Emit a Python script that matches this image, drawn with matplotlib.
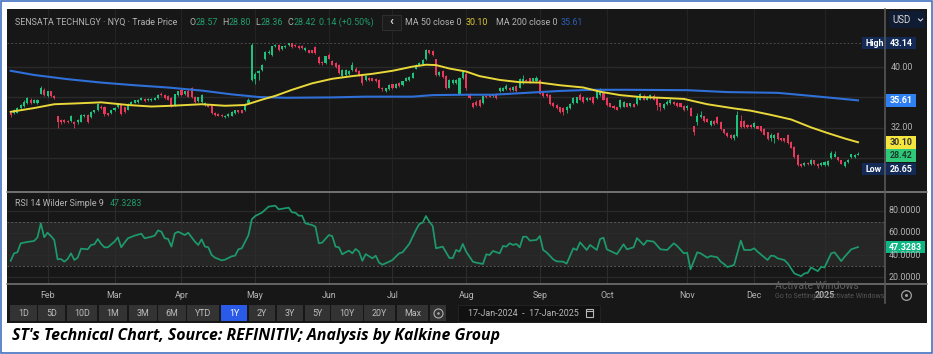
import numpy as np
import matplotlib
matplotlib.use("Agg")
import matplotlib.pyplot as plt
from matplotlib.patches import Rectangle

W, H = 933, 354

opens = [33.9,33.9,34.0,34.6,34.9,35.2,35.7,35.3,35.2,36.5,
37.0,36.2,36.8,36.2,33.5,33.0,33.0,32.9,32.9,32.8,
32.7,32.8,33.5,33.7,33.4,34.1,34.3,34.8,34.8,33.9,
33.9,34.3,34.7,35.0,34.7,34.4,35.1,35.3,35.4,35.7,
35.8,35.6,35.6,35.7,35.9,36.5,36.3,36.2,35.9,35.0,
36.3,37.0,36.4,36.9,37.2,36.1,35.5,35.4,35.0,35.0,
34.9,34.0,33.8,33.7,33.4,33.5,33.6,33.9,34.3,34.3,
34.3,35.2,38.3,38.4,39.2,39.6,41.0,41.8,41.6,42.7,
42.9,42.4,42.6,42.9,43.1,42.9,42.8,42.8,42.2,42.2,
42.2,42.6,41.3,40.7,40.5,41.6,40.8,40.5,40.3,38.8,
38.9,39.1,39.6,39.8,39.5,38.8,38.3,38.5,38.5,38.4,
38.3,37.3,36.9,37.1,37.7,37.3,37.9,37.6,38.2,38.3,
38.6,39.8,40.2,40.4,41.0,42.2,42.1,41.0,38.9,39.5,
38.8,37.3,37.9,37.9,36.4,38.5,39.1,36.5,35.3,35.4,
35.7,35.2,36.2,36.3,36.2,36.5,36.8,36.9,37.1,37.3,
37.0,37.5,37.3,37.9,38.3,38.5,38.1,38.1,38.3,36.6,
36.5,36.3,35.3,35.0,34.7,34.6,34.3,34.6,35.2,35.3,
36.3,36.1,35.6,35.9,36.1,35.9,36.3,36.6,35.9,35.2,
34.9,34.7,34.7,34.8,35.2,34.9,35.1,35.1,35.7,36.2,
35.7,35.9,36.2,35.9,35.2,34.6,35.1,35.2,35.4,35.3,
35.2,34.9,34.6,34.6,32.2,32.8,33.4,33.5,33.2,32.4,
32.9,33.4,32.8,31.8,31.3,31.1,30.6,30.9,32.9,32.9,
32.4,32.4,32.1,32.2,32.2,31.9,31.4,30.6,30.6,31.3,
30.6,30.6,31.1,30.1,29.5,28.4,27.3,27.1,27.4,27.2,
27.7,27.3,27.1,27.1,27.1,28.0,28.2,28.1,27.7,27.0,
27.5,28.1,28.1,28.42]
closes = [33.7,34.3,34.6,35.0,35.4,35.9,35.2,35.7,35.7,37.3,
36.3,36.8,36.2,35.9,32.8,32.8,32.7,32.7,33.6,32.5,
33.0,33.7,33.7,32.8,34.1,34.3,35.1,34.6,33.8,33.7,
34.3,34.6,35.2,33.8,34.1,35.1,35.4,35.6,35.7,35.9,
35.5,35.8,35.8,35.9,36.3,36.3,35.9,35.7,34.9,36.4,
36.8,36.3,36.8,36.1,36.1,35.4,36.0,36.3,35.2,34.8,
33.9,33.7,33.6,33.5,33.6,33.8,34.1,34.3,34.1,34.0,
35.1,35.7,42.9,39.1,39.5,40.3,42.0,42.0,42.7,42.9,
42.2,42.7,42.8,43.1,42.6,42.7,42.5,42.5,42.5,41.9,
41.9,41.8,40.5,40.5,41.4,41.1,40.3,40.0,39.2,39.6,
39.6,39.5,40.3,39.4,38.9,37.9,38.8,38.3,38.2,38.1,
37.3,37.1,37.2,37.6,37.2,37.8,37.5,38.1,38.6,38.7,
39.2,40.3,40.5,40.9,42.2,41.8,41.6,38.9,39.4,38.7,
37.3,38.3,38.3,38.3,38.6,39.3,37.2,35.9,34.7,35.0,
34.9,36.2,36.0,36.1,36.4,35.9,37.3,37.3,37.5,37.0,
37.4,36.8,38.4,38.4,38.1,38.0,38.5,38.6,36.5,36.2,
36.2,35.1,34.9,34.6,34.1,34.1,34.8,35.1,35.9,36.0,
35.7,35.4,35.9,35.7,35.2,36.8,37.0,35.7,35.0,34.8,
34.6,34.4,35.7,35.4,34.8,35.2,34.8,36.1,36.4,35.7,
36.1,36.3,35.7,35.0,34.8,35.1,35.4,35.7,35.1,34.9,
34.8,34.3,34.9,33.6,31.4,33.5,33.7,32.9,32.8,32.9,
32.5,32.6,31.8,31.3,30.9,30.6,31.1,33.7,32.1,32.1,
32.1,32.1,32.6,31.9,31.6,31.1,30.5,31.1,31.1,30.5,
30.4,30.2,30.0,29.4,28.1,27.1,27.0,27.4,27.2,27.8,
27.2,27.0,27.4,27.5,27.6,28.7,28.6,27.7,27.3,27.5,
27.8,28.5,28.4,28.57]
highs = [34.0,34.5,34.7,35.1,35.6,36.0,35.9,35.8,35.8,37.5,
37.2,36.9,36.9,36.3,33.6,33.1,33.1,33.0,33.7,32.9,
33.1,33.8,33.8,33.8,34.2,34.4,35.2,35.0,34.9,34.0,
34.4,34.7,35.3,35.1,34.8,35.2,35.5,35.7,35.8,36.1,
35.9,35.9,35.9,36.0,36.4,36.7,36.4,36.3,36.0,36.5,
36.9,37.3,36.9,37.1,37.4,36.2,36.1,36.4,35.4,35.1,
35.0,34.1,33.9,33.8,33.7,33.9,34.2,34.4,34.4,34.4,
35.2,35.9,43.14,39.3,39.6,40.4,42.1,42.2,42.8,43.0,
43.0,42.8,42.9,43.14,43.14,43.0,42.9,42.9,42.6,42.3,
42.3,42.7,41.4,40.8,41.5,41.8,40.9,40.6,40.4,39.7,
39.7,39.6,40.6,40.0,39.6,38.9,38.9,38.7,38.6,38.5,
38.4,37.4,37.3,37.7,37.8,37.9,38.0,38.2,38.7,38.8,
39.3,40.4,40.6,41.0,42.4,42.3,42.3,41.1,39.5,39.6,
38.9,38.4,38.4,38.4,38.7,39.6,39.3,36.6,35.4,35.6,
35.8,36.3,36.3,36.4,36.5,36.6,37.4,37.4,37.7,37.4,
37.5,37.6,38.6,39.0,38.4,38.6,38.6,38.8,38.4,36.7,
36.6,36.4,35.4,35.1,34.8,34.7,34.9,35.2,36.0,36.1,
36.6,36.2,36.0,36.1,36.2,36.9,37.3,36.7,36.0,35.3,
35.0,34.8,35.8,35.5,35.3,35.3,35.2,36.2,36.6,36.4,
36.2,36.5,36.4,36.0,35.3,35.2,35.6,35.9,35.5,35.4,
35.3,35.0,35.0,34.7,32.3,33.9,34.2,33.6,33.3,33.0,
33.0,33.5,32.9,31.9,31.4,31.2,31.2,34.2,33.7,33.0,
32.5,32.5,32.7,32.3,32.3,32.0,31.5,31.3,31.2,31.4,
30.7,30.7,31.2,30.2,29.6,28.5,27.4,27.5,27.5,27.9,
27.8,27.4,27.5,27.6,27.7,28.9,29.0,28.2,27.8,27.6,
27.9,28.6,28.5,28.80]
lows = [33.4,33.8,33.9,34.5,34.8,35.1,35.1,35.2,35.1,36.4,
36.2,36.1,36.1,35.8,32.0,32.5,32.6,32.6,32.8,32.0,
32.5,32.7,33.4,32.6,33.3,34.0,34.2,34.5,33.6,33.5,
33.8,34.2,34.6,33.7,34.0,34.3,35.0,35.2,35.3,35.6,
35.4,35.5,35.5,35.6,35.8,36.2,35.8,35.6,34.8,34.9,
36.2,36.2,36.3,36.0,35.9,35.3,35.4,35.3,34.9,34.7,
33.8,33.6,33.5,33.4,33.3,33.4,33.5,33.8,34.0,33.9,
34.2,35.1,38.2,37.7,38.3,39.5,40.9,41.7,41.5,42.6,
42.1,42.3,42.5,42.8,42.5,42.6,42.4,42.4,42.1,41.8,
41.8,41.7,40.4,40.3,40.4,41.0,40.2,39.9,39.1,38.7,
38.8,39.0,39.5,39.3,38.8,37.6,38.2,38.2,38.1,38.0,
37.2,36.9,36.7,37.0,37.1,37.2,37.4,37.5,38.1,38.2,
38.5,39.7,40.1,40.3,40.9,41.7,41.5,38.8,38.8,38.6,
37.1,37.2,37.8,37.8,36.3,38.4,37.0,35.8,34.6,34.9,
34.8,35.1,35.9,36.0,36.1,35.8,36.7,36.8,37.0,36.9,
36.9,36.7,37.2,37.8,38.0,37.9,38.0,38.0,36.4,36.1,
36.1,35.0,34.8,34.5,33.9,33.7,34.0,34.5,35.1,35.2,
35.6,35.3,35.5,35.6,35.1,35.8,36.2,35.6,34.9,34.7,
34.5,34.3,34.6,34.7,34.7,34.8,34.7,35.0,35.6,35.6,
35.6,35.8,35.6,34.3,34.2,34.5,35.0,35.1,35.0,34.8,
34.7,34.2,34.3,33.5,31.0,32.4,33.3,32.8,32.7,32.3,
32.4,32.5,31.7,31.2,30.8,30.5,30.4,30.8,32.0,32.0,
32.0,32.0,32.0,31.8,31.5,31.0,30.4,30.2,30.0,30.4,
30.3,30.1,29.9,29.3,28.0,27.0,26.9,27.0,27.1,27.1,
27.1,26.65,27.0,27.0,27.0,27.9,28.1,27.6,27.2,26.9,
27.4,28.0,28.0,28.36]

ma50_day = [0,7,13,19,27,35,42,48,57,64,70,75,79,84,90,96,102,108,114,120,124,127,131,136,
            140,146,152,158,164,171,176,182,188,194,201,208,216,221,227,233,239,244,249,253]
ma50 = [34.1,34.6,35.1,35.2,35.35,35.0,34.8,34.9,35.1,34.9,35.0,35.7,36.2,37.0,37.85,38.45,38.8,39.1,39.5,40.05,40.3,40.25,39.8,39.4,
        38.8,38.3,38.0,37.95,37.6,37.3,36.75,36.3,36.05,35.95,35.8,35.1,34.55,34.25,33.7,33.1,32.05,31.3,30.6,30.10]
ma200_day = [0,7,17,27,37,47,57,66,74,82,96,106,120,126,136,144,154,164,174,184,202,214,229,239,253]
ma200 = [39.5,38.95,38.4,37.95,37.6,37.3,36.9,36.4,36.05,35.95,36.0,36.1,36.1,36.3,36.35,36.35,36.6,36.85,37.0,37.0,36.95,36.7,36.6,36.2,35.61]

rsi_day = [0,1,2,3,5,7,8,9,10,11,12,13,14,15,16,17,18,19,20,21,23,24,25,26,27,28,29,31,32,33,34,35,37,39,40,42,43,44,45,46,47,48,49,50,52,53,55,56,57,58,59,60,61,63,64,66,67,68,69,71,72,73,75,77,79,80,83,84,85,86,87,88,90,91,92,93,95,96,97,98,99,100,101,102,103,104,105,106,108,109,110,111,113,114,116,117,119,121,122,123,124,125,126,127,129,131,132,133,134,135,136,
           138,139,141,142,143,144,146,147,148,149,150,151,152,153,154,155,157,158,159,160,162,163,165,166,168,169,170,172,173,175,176,177,178,181,183,184,186,187,189,190,192,194,196,198,199,201,202,203,205,206,208,209,211,212,213,214,216,218,219,221,222,223,226,227,228,229,231,232,234,236,237,238,239,241,242,243,245,246,248,249,251,253]
rsi = [35.0,41.7,42.6,50.7,51.9,52.8,56.1,68.6,56.1,60.2,57.2,53.7,36.3,36.6,34.2,36.6,41.7,35.7,37.8,45.9,45.3,49.2,49.8,54.6,50.1,47.1,47.1,52.2,56.1,47.1,51.3,55.2,57.6,59.3,55.2,56.6,57.6,62.3,61.1,55.2,54.6,47.7,59.6,61.1,58.1,60.2,52.2,49.2,54.3,47.7,47.1,40.2,37.8,35.4,36.0,39.0,39.6,45.3,46.2,58.1,72.2,75.2,78.2,83.6,84.5,81.2,82.7,78.5,78.2,75.5,75.5,68.6,67.1,65.6,50.7,51.3,58.1,57.2,47.7,47.1,40.8,42.6,44.1,41.7,45.6,43.2,35.0,41.0,37.2,39.6,33.3,31.5,34.2,35.7,41.7,42.6,50.1,62.6,68.0,69.2,75.2,70.1,66.2,46.2,47.7,37.5,37.5,44.7,43.2,50.1,43.2,
       34.2,33.3,32.1,40.8,40.2,43.8,41.7,48.3,47.7,50.7,49.2,50.1,47.1,56.6,56.6,53.1,53.7,57.2,44.7,42.6,36.3,34.5,34.2,32.4,46.2,44.7,51.6,44.7,49.2,44.7,54.6,55.7,45.3,41.0,49.8,45.3,47.1,55.4,49.2,53.1,52.2,45.3,44.7,50.7,48.3,41.7,42.2,27.3,42.6,41.7,37.8,39.3,38.1,34.2,32.1,29.4,31.2,53.1,44.7,44.7,46.2,43.2,35.7,39.6,39.3,37.2,35.7,32.7,23.6,21.2,23.6,24.2,29.0,25.7,29.6,29.0,41.7,42.6,34.7,38.6,45.3,47.33]

month_days = [11,31,51,73,95,114,136,158,178,202,222,243]
month_labels = ["Feb","Mar","Apr","May","Jun","Jul","Aug","Sep","Oct","Nov","Dec","2025"]
price_ticks = [40,32]
price_grid = [40,36,32,28]
rsi_ticks = [80,60,40,20]
range_buttons = ["1D","5D","10D","1M","3M","6M","YTD","1Y","2Y","3Y","5Y","10Y","20Y","Max"]

UP, DOWN = "#1fc27c", "#e8385c"
BG, PANEL_GRID = "#171717", "#2a2a2a"
GREY = "#b4b4b4"
FONT = "Roboto"

fig = plt.figure(figsize=(W/100, H/100), dpi=100, facecolor="white")

def axpx(x0, y0, x1, y1):
    return fig.add_axes([x0/W, 1-y1/H, (x1-x0)/W, (y1-y0)/H])

# chrome backdrop in pixel coordinates
back = axpx(0, 0, W, H); back.set_xlim(0, W); back.set_ylim(H, 0); back.axis("off"); back.set_zorder(0)
back.add_patch(Rectangle((0.5, 0.5), W-1.5, H-1.5, fc="white", ec="#4472c4", lw=1.2))
back.add_patch(Rectangle((7, 9), 920, 314, fc=BG, ec="none"))

day_to_px = 3.349
x_lim = ((7-10.7)/day_to_px, (885-10.7)/day_to_px)
days = np.arange(len(opens))

# price panel
ax = axpx(7, 9, 885, 190); ax.set_zorder(1); ax.patch.set_alpha(0)
ax.set_xlim(*x_lim)
ax.set_ylim(40-(190-67)/7.6, 40-(9-67)/7.6)
ax.axis("off")
for p in price_grid:
    ax.axhline(p, color=PANEL_GRID, lw=1, zorder=1)
for m in month_days:
    ax.axvline(m, color="#232323", lw=0.8, zorder=1)
ax.axhline(max(highs), color="#4a4a4a", lw=0.7, ls=(0, (2, 2)), zorder=1)
o, c, hi, lo = map(np.array, (opens, closes, highs, lows))
cols = np.where(c >= o, UP, DOWN)
ax.vlines(days, lo, hi, colors=cols, lw=0.6, zorder=2)
ax.bar(days, np.maximum(np.abs(c-o), 0.15), bottom=np.minimum(o, c), width=0.62, color=cols, lw=0, zorder=3)
ax.plot(ma200_day, ma200, color="#2f6fd8", lw=1.5, zorder=4)
ax.plot(ma50_day, ma50, color="#e8d83a", lw=1.4, zorder=5)

# RSI panel
rx = axpx(7, 192.5, 885, 283.5); rx.set_zorder(1); rx.patch.set_alpha(0)
rx.set_xlim(*x_lim)
rx.set_ylim(98.56-0.898*(283.5-190), 98.56-0.898*(192.5-190))
rx.axis("off")
rx.axhspan(30, 70, color="#262626", lw=0, zorder=0)
for v in rsi_ticks:
    rx.axhline(v, color=PANEL_GRID, lw=0.9, zorder=1)
for m in month_days:
    rx.axvline(m, color="#2c2c2c", lw=0.8, zorder=1)
for v in (70, 30):
    rx.axhline(v, color="#5a5a5a", lw=0.7, ls=(0, (2, 2)), zorder=2)
rx.plot(rsi_day, rsi, color="#1d9a6c", lw=1.25, zorder=3)

# overlay in pixel coordinates
ov = axpx(0, 0, W, H); ov.set_xlim(0, W); ov.set_ylim(H, 0); ov.axis("off"); ov.set_zorder(3); ov.patch.set_alpha(0)
ov.plot([7, 927], [191.5, 191.5], color="#8a8a8a", lw=1.1)
ov.plot([7, 927], [284, 284], color="#7a7a7a", lw=1.1)
ov.plot([885, 885], [9, 303], color="#5c5c5c", lw=1.1)

def t(x, y, s, color=GREY, size=6.4, ha="left", **kw):
    ov.text(x, y, s, color=color, fontsize=size, ha=ha, va="center", family=FONT, **kw)

G2 = "#1f9d6c"
t(15, 22.5, "SENSATA TECHNLGY · NYQ · Trade Price")
for x, s, col in [(189, "O", GREY), (196, "28.57", G2), (222, "H", GREY), (229, "28.80", G2),
                  (255, "L", GREY), (261, "28.36", G2), (287, "C", GREY), (294, "28.42", G2),
                  (319, "0.14 (+0.50%)", G2), (405, "MA 50 close 0", GREY), (466, "30.10", "#d9c92e"),
                  (496, "MA 200 close 0", GREY), (561, "35.61", "#2a5fb8")]:
    t(x, 22.5, s, color=col)
ov.add_patch(Rectangle((382, 15), 19, 14.5, fc="#1c1c1c", ec="#2e2e2e", lw=0.8))
t(391.5, 22, "‹", color="#dddddd", size=9, ha="center", fontweight="bold")
t(15, 204, "RSI 14 Wilder Simple 9")
t(110, 204, "47.3283", color=G2)

# right-hand axis labels and value tags
for p in price_ticks:
    t(902, 67 + (40-p)*7.6, f"{p:.2f}", ha="center")
for v in rsi_ticks:
    t(905, 190 + (98.56-v)/0.898, f"{v:.4f}", ha="center")
NAVY = "#122a55"
ov.add_patch(Rectangle((889, 11), 36, 17, fc="#101c33", ec="none"))
t(892, 20, "USD", color="#d8d8d8", size=7)
ov.plot([918.5, 920.5, 922.5], [19, 21, 19], color="#d8d8d8", lw=0.8)
for y0, y1, x0, fc, s, col in [(37, 49, 862, NAVY, "High", "white"), (163, 175, 862, NAVY, "Low", "white")]:
    ov.add_patch(Rectangle((x0, y0), 54, y1-y0, fc=fc, ec="none"))
    t(x0+3, (y0+y1)/2, s, color=col, fontweight="bold")
t(901, 43, "43.14", color="white", ha="center", fontweight="bold")
t(901, 169, "26.65", color="white", ha="center", fontweight="bold")
for y0, y1, fc, s, col in [(94, 107, "#2f80f2", "35.61", "white"), (136, 148.5, "#f5e53f", "30.10", "#333333"),
                           (149, 162, "#2fc878", "28.42", "#1c3d2b")]:
    ov.add_patch(Rectangle((886, y0), 30, y1-y0, fc=fc, ec="none"))
    t(901, (y0+y1)/2, s, color=col, ha="center", fontweight="bold")
ov.add_patch(Rectangle((886, 240.7), 39, 12.6, fc="#0db583", ec="none"))
t(905.5, 247, "47.3283", color="white", ha="center", fontweight="bold")

# month labels
for m, lab in zip(month_days, month_labels):
    t(10.7 + m*day_to_px, 295, lab, ha="center", fontweight="bold" if lab == "2025" else "normal")

# watermark
t(775, 285.7, "Activate Windows", color="#5e5e5e", size=7.6)
t(775, 296, "Go to Settings to activate Windows.", color="#565656", size=5.0)

# gear
ov.plot([906], [295], "o", ms=7, mfc="none", mec="#a0a0a0", mew=0.9)
ov.plot([906], [295], "o", ms=2.2, mfc="#a0a0a0", mec="none")

# range buttons
btn_edges = [(10,37),(38,65),(67,97),(99,127),(129,157),(158,186),(187,219),(221,247),(249,275),(277,303),(305,330),(331,363),(364,395),(397,428)]
for (x0, x1), lab in zip(btn_edges, range_buttons):
    on = lab == "1Y"
    ov.add_patch(Rectangle((x0, 305), x1-x0, 16, fc="#2a5ae8" if on else "#333333", ec="none"))
    t((x0+x1)/2, 313.3, lab, color="white" if on else "#bdbdbd", ha="center")
ov.add_patch(Rectangle((430, 305), 15.5, 16, fc="#333333", ec="none"))
ov.plot([437.7], [313], "o", ms=6.5, mfc="none", mec="#b0b0b0", mew=0.8)
ov.plot([437.7], [313], "o", ms=1.8, mfc="#b0b0b0", mec="none")
ov.add_patch(Rectangle((458, 305), 142, 16.5, fc="#111111", ec="#262626", lw=0.6))
t(523, 313.3, "17-Jan-2024  -  17-Jan-2025", color="#b8b8b8", ha="center")
ov.add_patch(Rectangle((585.5, 309), 7, 8, fc="none", ec="#b8b8b8", lw=0.8))
ov.plot([585.5, 592.5], [311, 311], color="#b8b8b8", lw=0.8)

# caption
ov.text(12, 336, "ST's Technical Chart, Source: REFINITIV; Analysis by Kalkine Group", color="black",
        fontsize=11.4, family="Open Sans", fontweight="bold", fontstyle="italic", va="center", ha="left")

fig.savefig("out.png", dpi=100, facecolor="white")
